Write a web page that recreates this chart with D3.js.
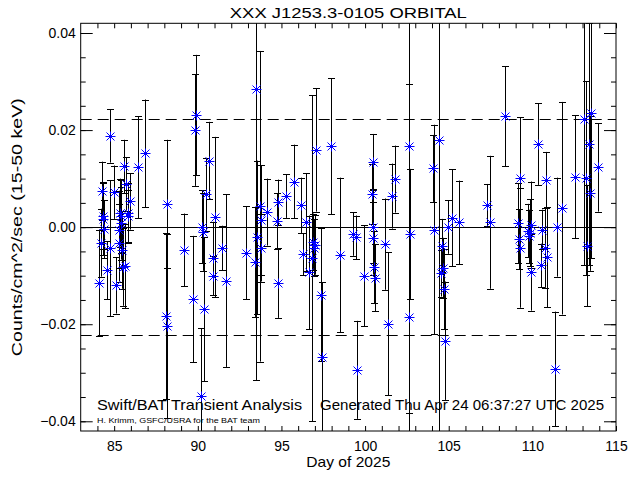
<!DOCTYPE html>
<html>
<head>
<meta charset="utf-8">
<script src="https://cdn.jsdelivr.net/npm/d3@7"></script>
<style>
  body { margin: 0; background: #fff; }
  text { font-family: "Liberation Sans", Arial, sans-serif; fill: #000; }
</style>
</head>
<body>
<div id="chart"></div>
<script>
// day of 2025, rate (counts/cm^2/sec), 1-sigma error
const days = [
  84.09, 84.19, 84.29, 84.31, 84.35, 84.39, 84.59, 84.75, 84.75, 84.99,
  85.11, 85.29, 85.31, 85.35, 85.39, 85.43, 85.45, 85.55, 85.65, 85.59,
  85.71, 85.81, 85.85, 85.95, 86.44, 86.86, 88.17, 88.09, 88.13, 89.19,
  89.73, 89.83, 89.91, 90.19, 90.23, 90.31, 90.35, 90.49, 90.65, 90.92,
  90.88, 91.02, 91.42, 91.68, 92.87, 93.41, 93.47, 93.51, 93.71, 93.75,
  93.77, 94.15, 94.71, 94.77, 94.81, 95.26, 95.74, 96.14, 96.26, 96.44,
  96.64, 96.80, 96.90, 96.94, 97.02, 97.06, 97.39, 97.43, 97.97, 98.49,
  99.25, 99.45, 99.53, 99.92, 100.48, 100.42, 100.48, 100.48, 100.54, 100.58,
  101.18, 101.40, 101.58, 101.78, 102.61, 102.67, 102.61, 104.07, 104.11, 104.40,
  104.62, 104.52, 104.66, 104.72, 104.78, 104.96, 105.20, 105.62, 107.29, 107.49,
  108.35, 109.14, 109.24, 109.18, 109.24, 109.74, 109.80, 109.84, 109.90, 109.90,
  110.34, 110.58, 110.50, 110.74, 110.88, 110.84, 111.37, 111.47, 111.77, 112.53,
  113.08, 113.23, 113.29, 113.37, 113.42, 113.52, 113.92
];
const rates = [
  -0.0115, -0.0032, 0.0075, 0.0022, 0.0017, -0.0004, -0.0089, 0.0188, -0.0043, 0.0072,
  -0.0120, -0.0005, -0.0032, 0.0030, 0.0022, 0.0008, -0.0047, -0.0082, -0.0080, 0.0125,
  0.0089, 0.0030, 0.0022, 0.0053, 0.0123, 0.0152, 0.0048, -0.0184, -0.0204, -0.0047,
  -0.0148, 0.0200, 0.0231, -0.0348, 0.0001, -0.0010, -0.0169, 0.0068, 0.0137, -0.0064,
  -0.0100, 0.0021, -0.0043, -0.0110, -0.0053, -0.0072, 0.0285, -0.0021, 0.0043, 0.0015,
  -0.0042, 0.0031, 0.0012, -0.0115, 0.0051, 0.0064, 0.0094, 0.0045, -0.0056, 0.0010,
  -0.0093, -0.0064, -0.0030, -0.0042, -0.0036, 0.0159, -0.0139, -0.0267, 0.0167, -0.0057,
  -0.0014, -0.0021, -0.0294, -0.0100, 0.0135, 0.0068, 0.0001, -0.0023, -0.0082, -0.0104,
  -0.0035, -0.0199, 0.0064, 0.0099, 0.0167, -0.0014, -0.0186, 0.0121, -0.0005, 0.0180,
  -0.0038, -0.0095, -0.0084, -0.0128, -0.0234, 0.0000, 0.0019, 0.0010, 0.0046, 0.0010,
  0.0228, 0.0008, 0.0101, -0.0025, -0.0043, -0.0007, -0.0019, -0.0012, 0.0005, -0.0093,
  0.0171, -0.0005, -0.0079, -0.0043, -0.0062, 0.0097, -0.0292, 0.0000, 0.0039, 0.0104,
  0.0222, 0.0101, -0.0038, 0.0171, 0.0070, 0.0236, 0.0123
];
const errors = [
  0.0110, 0.0070, 0.0060, 0.0068, 0.0075, 0.0060, 0.0060, 0.0055, 0.0140, 0.0055,
  0.0058, 0.0080, 0.0080, 0.0070, 0.0075, 0.0075, 0.0080, 0.0080, 0.0087, 0.0055,
  0.0055, 0.0060, 0.0055, 0.0058, 0.0105, 0.0111, 0.0132, 0.0171, 0.0190, 0.0075,
  0.0130, 0.0115, 0.0124, 0.0140, 0.0075, 0.0080, 0.0148, 0.0075, 0.0080, 0.0075,
  0.0040, 0.0165, 0.0046, 0.0178, 0.0096, 0.0113, 0.0600, 0.0158, 0.0320, 0.0113,
  0.0070, 0.0069, 0.0058, 0.0072, 0.0047, 0.0045, 0.0076, 0.0057, 0.0043, 0.0101,
  0.0117, 0.0336, 0.0058, 0.0058, 0.0062, 0.0127, 0.0137, 0.0154, 0.0140, 0.0159,
  0.0045, 0.0045, 0.0101, 0.0104, 0.0057, 0.0062, 0.0075, 0.0075, 0.0075, 0.0069,
  0.0094, 0.0147, 0.0067, 0.0069, 0.0550, 0.0134, 0.0480, 0.0069, 0.0216, 0.0620,
  0.0055, 0.0048, 0.0062, 0.0082, 0.0122, 0.0055, 0.0100, 0.0086, 0.0043, 0.0137,
  0.0103, 0.0082, 0.0125, 0.0062, 0.0123, 0.0055, 0.0055, 0.0069, 0.0089, 0.0079,
  0.0084, 0.0041, 0.0045, 0.0082, 0.0103, 0.0058, 0.0118, 0.0102, 0.0219, 0.0127,
  0.0300, 0.0200, 0.0125, 0.0250, 0.0160, 0.0300, 0.0091
];

const xTicks = [85, 90, 95, 100, 105, 110, 115];
const yTicks = [-0.04, -0.02, 0.00, 0.02, 0.04];
const limitLevel = 0.0222;

const data = days.map((d, i) => ({ day: d, rate: rates[i], err: errors[i] }));

const width = 640, height = 480;
const mLeft = 80.7, mRight = 616, mTop = 23.3, mBottom = 431;

const svg = d3.select("#chart").append("svg")
  .attr("width", width)
  .attr("height", height)
  .style("display", "block");

const x = d3.scaleLinear().domain([83, 115]).range([mLeft, mRight]);
const y = d3.scaleLinear().domain([-0.042, 0.042]).range([mBottom, mTop]);

// clip so long error bars stop at the frame
svg.append("clipPath").attr("id", "plot-clip")
  .append("rect")
  .attr("x", mLeft).attr("y", mTop)
  .attr("width", mRight - mLeft).attr("height", mBottom - mTop);

const plot = svg.append("g").attr("clip-path", "url(#plot-clip)");

// zero line and dashed limits
plot.append("line")
  .attr("x1", mLeft).attr("x2", mRight)
  .attr("y1", Math.round(y(0)) + 0.5).attr("y2", Math.round(y(0)) + 0.5)
  .attr("stroke", "#000").attr("stroke-width", 1);

[limitLevel, -limitLevel].forEach(v => {
  plot.append("line")
    .attr("x1", mLeft).attr("x2", mRight)
    .attr("y1", Math.round(y(v)) + 0.5).attr("y2", Math.round(y(v)) + 0.5)
    .attr("stroke", "#000").attr("stroke-width", 1)
    .attr("stroke-dasharray", "11,6");
});

// error bars
const bars = plot.selectAll(".err")
  .data(data)
  .join("g")
  .attr("class", "err")
  .attr("stroke", "#000")
  .attr("stroke-width", 1);

bars.append("line")
  .attr("x1", d => Math.round(x(d.day)) + 0.5)
  .attr("x2", d => Math.round(x(d.day)) + 0.5)
  .attr("y1", d => y(d.rate + d.err))
  .attr("y2", d => y(d.rate - d.err));

bars.append("line")
  .attr("x1", d => Math.round(x(d.day)) - 3)
  .attr("x2", d => Math.round(x(d.day)) + 4)
  .attr("y1", d => Math.round(y(d.rate + d.err)) + 0.5)
  .attr("y2", d => Math.round(y(d.rate + d.err)) + 0.5);

bars.append("line")
  .attr("x1", d => Math.round(x(d.day)) - 3)
  .attr("x2", d => Math.round(x(d.day)) + 4)
  .attr("y1", d => Math.round(y(d.rate - d.err)) + 0.5)
  .attr("y2", d => Math.round(y(d.rate - d.err)) + 0.5);

// asterisk markers
const r = 5;
plot.selectAll(".star")
  .data(data)
  .join("path")
  .attr("class", "star")
  .attr("fill", "none")
  .attr("stroke", "#0000ff")
  .attr("stroke-width", 1)
  .attr("d", d => {
    const cx = Math.round(x(d.day)) + 0.5, cy = Math.round(y(d.rate)) + 0.5;
    return `M${cx - r},${cy}H${cx + r}M${cx},${cy - r}V${cy + r}` +
      `M${cx - r * 0.8},${cy - r * 0.8}L${cx + r * 0.8},${cy + r * 0.8}` +
      `M${cx - r * 0.8},${cy + r * 0.8}L${cx + r * 0.8},${cy - r * 0.8}`;
  });

// frame
svg.append("rect")
  .attr("x", mLeft).attr("y", mTop)
  .attr("width", mRight - mLeft).attr("height", mBottom - mTop)
  .attr("fill", "none").attr("stroke", "#000").attr("stroke-width", 1);

// axes: ticks on all four sides, labels bottom and left
const xMinor = d3.range(84, 116, 1);
const yMinor = d3.range(-0.04, 0.0401, 0.005);

svg.append("g")
  .attr("transform", `translate(0,${mBottom})`)
  .call(d3.axisTop(x).tickValues(xMinor).tickSize(5).tickFormat(""))
  .call(g => g.select(".domain").remove());

svg.append("g")
  .attr("transform", `translate(0,${mBottom})`)
  .call(d3.axisBottom(x).tickValues(xTicks).tickSize(0).tickPadding(10).tickFormat(d3.format("d")))
  .call(g => g.select(".domain").remove())
  .call(g => g.selectAll("text").style("font-size", "14px").attr("font-family", null));

svg.append("g")
  .attr("transform", `translate(0,${mTop})`)
  .call(d3.axisBottom(x).tickValues(xMinor).tickSize(5).tickFormat(""))
  .call(g => g.select(".domain").remove());

// left axis
svg.append("g")
  .attr("transform", `translate(${mLeft},0)`)
  .call(d3.axisRight(y).tickValues(yMinor).tickSize(5).tickFormat(""))
  .call(g => g.select(".domain").remove());
svg.append("g")
  .attr("transform", `translate(${mLeft},0)`)
  .call(d3.axisRight(y).tickValues(yTicks).tickSize(12).tickFormat(""))
  .call(g => g.select(".domain").remove());
svg.append("g")
  .attr("transform", `translate(${mLeft},0)`)
  .call(d3.axisLeft(y).tickValues(yTicks).tickSize(0).tickPadding(5)
    .tickFormat(d => d3.format(".2f")(d).replace("-", "\u2212")))
  .call(g => g.select(".domain").remove())
  .call(g => g.selectAll("text").style("font-size", "14px").attr("font-family", null));

// right axis
svg.append("g")
  .attr("transform", `translate(${mRight},0)`)
  .call(d3.axisLeft(y).tickValues(yMinor).tickSize(5).tickFormat(""))
  .call(g => g.select(".domain").remove());
svg.append("g")
  .attr("transform", `translate(${mRight},0)`)
  .call(d3.axisLeft(y).tickValues(yTicks).tickSize(12).tickFormat(""))
  .call(g => g.select(".domain").remove());

// titles and annotations
const label = (txt, px, py, size, len, anchor) => svg.append("text")
  .attr("x", px).attr("y", py)
  .attr("text-anchor", anchor || "start")
  .attr("textLength", len)
  .attr("lengthAdjust", "spacingAndGlyphs")
  .style("font-size", size + "px")
  .text(txt);

label("XXX J1253.3-0105 ORBITAL", (mLeft + mRight) / 2, 18, 15, 237, "middle");
label("Day of 2025", (mLeft + mRight) / 2, 467, 15, 84, "middle");
label("Swift/BAT Transient Analysis", 97, 410, 15, 205);
label("Generated Thu Apr 24 06:37:27 UTC 2025", 320, 410, 15, 284);
label("H. Krimm, GSFC/USRA for the BAT team", 97, 423, 8, 163);

svg.append("text")
  .attr("transform", `translate(22,${(mTop + mBottom) / 2}) rotate(-90)`)
  .attr("text-anchor", "middle")
  .attr("textLength", 258)
  .attr("lengthAdjust", "spacingAndGlyphs")
  .style("font-size", "15px")
  .text("Counts/cm^2/sec (15-50 keV)");
</script>
</body>
</html>
